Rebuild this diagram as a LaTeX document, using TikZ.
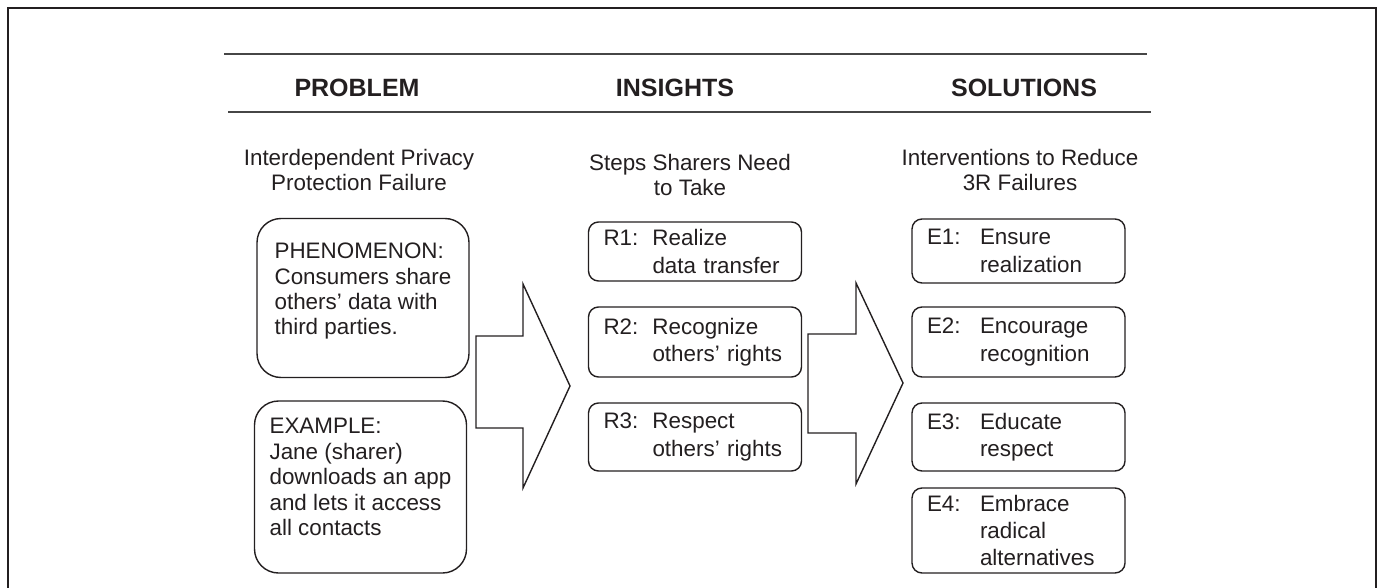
\documentclass[tikz,border=0pt]{standalone}
\usepackage{fontspec}
\setmainfont{Liberation Sans}
\definecolor{ink}{RGB}{35, 31, 32}
\definecolor{rulegray}{RGB}{70, 70, 70}
\newlength{\tagwidth}
\newcommand{\tagline}[2]{\makebox[\tagwidth][l]{#1}#2}
\newcommand{\hangline}[1]{\hspace*{\tagwidth}#1}
\tikzset{
    headtext/.style={
        font=\fontsize{12.5}{15}\selectfont\bfseries,
        text=ink
    },
    subtext/.style={
        align=center,
        font=\fontsize{11.2}{12.9}\selectfont,
        text=ink
    },
    casebox/.style={
        rectangle,
        draw=ink,
        line width=0.7pt,
        rounded corners=12pt,
        minimum width=106pt,
        align=left,
        font=\fontsize{11.2}{12.7}\selectfont,
        text=ink
    },
    stepbox/.style={
        rectangle,
        draw=ink,
        line width=0.7pt,
        rounded corners=5pt,
        text width=91.5pt,
        inner xsep=7.5pt,
        align=left,
        font=\fontsize{11.2}{13.6}\selectfont,
        text=ink
    },
    bigarrow/.style={draw=ink, line width=0.7pt, line join=miter}
}

\begin{document}
\begin{tikzpicture}[x=0.5pt, y=-0.5pt]
          \useasboundingbox (0,0) rectangle (1380,588);
          \draw[ink, line width=1.3pt] (8,588) -- (8,8) -- (1376,8) -- (1376,588);

          % column headings
          \draw[rulegray, line width=0.6pt] (224,54) -- (1147,54);
          \draw[rulegray, line width=0.6pt] (228,112) -- (1151,112);
          \node[headtext] (problem) at (357,88) {PROBLEM};
          \node[headtext] (insights) at (675,88) {INSIGHTS};
          \node[headtext] (solutions) at (1024,88) {SOLUTIONS};

          \node[subtext] (probsub) at (359,170) {Interdependent Privacy\\Protection Failure};
          \node[subtext] (inssub) at (690,175) {Steps Sharers Need\\to Take};
          \node[subtext] (solsub) at (1020,170) {Interventions to Reduce\\3R Failures};

          % problem
          \node[casebox, minimum height=79.5pt, text depth=9pt] (phenomenon) at (363,298)
              {PHENOMENON:\\Consumers share\\others' data with\\third parties.};
          \node[casebox, minimum height=86pt, text depth=10pt] (example) at (360.5,487)
              {EXAMPLE:\\Jane (sharer)\\downloads an app\\and lets it access\\all contacts};

          % insights
          \setlength{\tagwidth}{24.5pt}
          \node[stepbox, minimum height=29.5pt] (r1) at (695,251.5)
              {\tagline{R1:}{Realize}\\\hangline{data transfer}};
          \node[stepbox, minimum height=35pt] (r2) at (695,342)
              {\tagline{R2:}{Recognize}\\\hangline{others' rights}};
          \node[stepbox, minimum height=34pt] (r3) at (695,437)
              {\tagline{R3:}{Respect}\\\hangline{others' rights}};

          % solutions
          \setlength{\tagwidth}{26.5pt}
          \node[stepbox, minimum height=32pt] (e1) at (1018.5,251)
              {\tagline{E1:}{Ensure}\\\hangline{realization}};
          \node[stepbox, minimum height=35pt] (e2) at (1018.5,342)
              {\tagline{E2:}{Encourage}\\\hangline{recognition}};
          \node[stepbox, minimum height=34pt] (e3) at (1018.5,437)
              {\tagline{E3:}{Educate}\\\hangline{respect}};
          \node[stepbox, minimum height=42.5pt] (e4) at (1018.5,530.5)
              {\tagline{E4:}{Embrace}\\\hangline{radical}\\\hangline{alternatives}};

          % block arrows
          \draw[bigarrow] (476,336) -- (523,336) -- (523,284) -- (570,386)
              -- (523,488) -- (523,428) -- (476,428) -- cycle;
          \draw[bigarrow] (808,334) -- (856,334) -- (856,283) -- (903,383)
              -- (856,484) -- (856,433) -- (808,433) -- cycle;
        \end{tikzpicture}
\end{document}
